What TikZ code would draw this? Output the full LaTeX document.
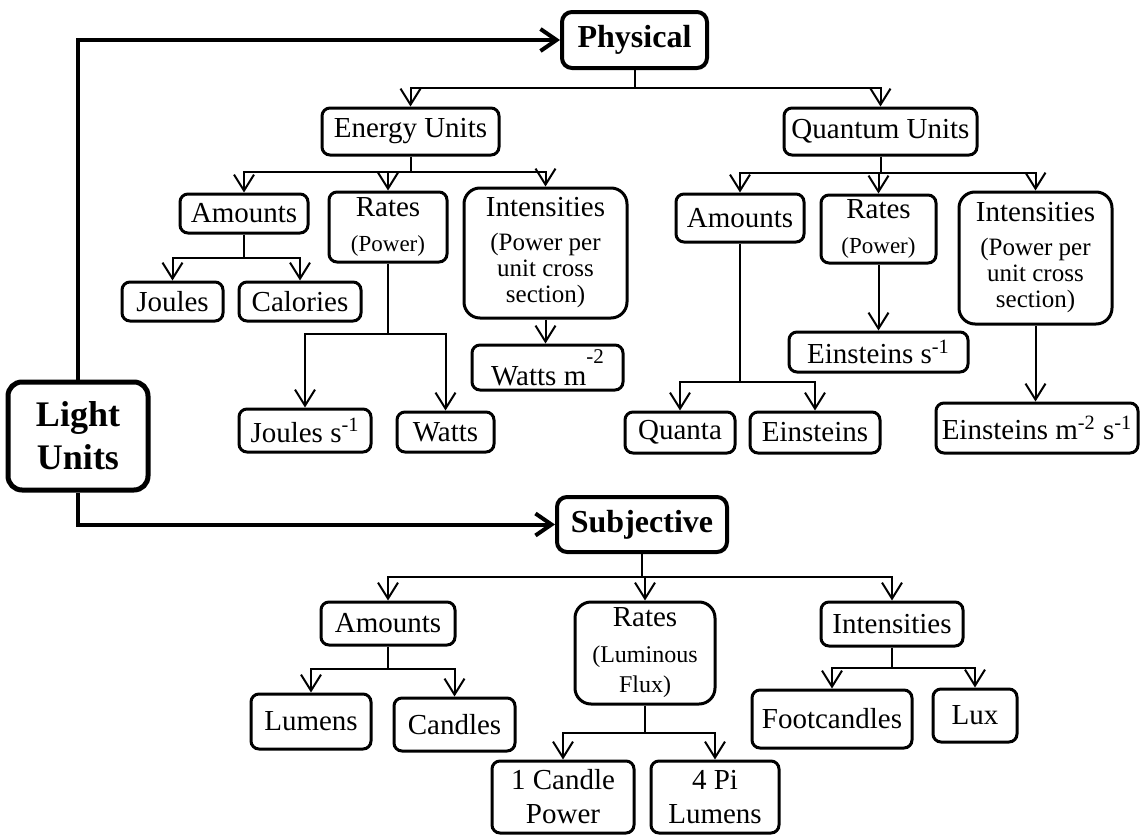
\documentclass[tikz,border=0pt]{standalone}
\usepackage{fontspec}
\setmainfont{Liberation Serif}
\usetikzlibrary{arrows.meta}

\newcommand{\notefont}{\fontsize{12.5}{13}\selectfont}
\newcommand{\fluxfont}{\fontsize{12}{14}\selectfont}

\begin{document}
\begin{tikzpicture}[
  x=0.5pt,
  y=-0.5pt,
  font=\fontsize{14.5}{17}\selectfont,
  headbox/.style={draw, line width=2pt, rounded corners=5pt, inner sep=0pt, align=center, font=\fontsize{16}{18}\selectfont\bfseries},
  unitbox/.style={draw, line width=1.5pt, rounded corners=4pt, inner sep=0pt, align=center},
  tallbox/.style={unitbox, rounded corners=8pt},
  link/.style={line width=1pt},
  arrowline/.style={link, -{Straight Barb[length=8pt,width=10pt]}},
  mainline/.style={line width=2pt, -{Straight Barb[length=8pt,width=11pt]}}
]
  \useasboundingbox (0,0) rectangle (1141,835);

  % roots
  \node[headbox, line width=2.5pt, rounded corners=7pt, minimum width=70pt, minimum height=54pt, font=\fontsize{18}{21.5}\selectfont\bfseries] (lu) at (78,436) {Light\\Units};
  \node[headbox, minimum width=72.5pt, minimum height=28pt] (phys) at (634.5,40) {Physical};
  \node[headbox, minimum width=85pt, minimum height=27.5pt] (subj) at (642,524.5) {Subjective};

  % physical side
  \node[unitbox, minimum width=88.5pt, minimum height=23.5pt] (eu) at (410.5,131.5) {Energy Units};
  \node[unitbox, minimum width=96.5pt, minimum height=23.5pt] (qu) at (880.5,131.5) {Quantum Units};

  \node[unitbox, minimum width=64pt, minimum height=19.5pt] (ea) at (244,213.5) {Amounts};
  \node[unitbox, minimum width=59pt, minimum height=35pt, font=\fontsize{14.5}{17.5}\selectfont] (er) at (388,227) {Rates\\{\fontsize{11.5}{13}\selectfont (Power)}};
  \node[tallbox, minimum width=81.5pt, minimum height=65pt, font=\fontsize{14.5}{13}\selectfont] (ei) at (545.5,253)
    {Intensities\\[4pt]\notefont (Power per\\\notefont unit cross\\\notefont section)};

  \node[unitbox, minimum width=64pt, minimum height=24pt] (qa) at (740,218) {Amounts};
  \node[unitbox, minimum width=57.5pt, minimum height=34pt, font=\fontsize{14.5}{17.5}\selectfont] (qr) at (878.5,229) {Rates\\{\fontsize{11.5}{13}\selectfont (Power)}};
  \node[tallbox, minimum width=76.5pt, minimum height=66pt, font=\fontsize{14.5}{13}\selectfont] (qi) at (1035.5,258)
    {Intensities\\[4pt]\notefont (Power per\\\notefont unit cross\\\notefont section)};

  \node[unitbox, minimum width=50.5pt, minimum height=19.5pt] (joules) at (172.5,301.5) {Joules};
  \node[unitbox, minimum width=61pt, minimum height=19.5pt] (calories) at (300,301.5) {Calories};
  \node[unitbox, minimum width=66pt, minimum height=21.5pt] (joulesps) at (305,430.5) {Joules s\textsuperscript{-1}};
  \node[unitbox, minimum width=48.5pt, minimum height=20pt] (watts) at (445.5,432) {Watts};
  \node[unitbox, minimum width=75.5pt, minimum height=22.5pt] (wattsm) at (547.5,367.5) {Watts m\raisebox{11pt}{\fontsize{10.5}{12}\selectfont -2}};

  \node[unitbox, minimum width=89.5pt, minimum height=20pt] (einps) at (878.5,352) {Einsteins s\textsuperscript{-1}};
  \node[unitbox, minimum width=55pt, minimum height=20.5pt] (quanta) at (680,432.5) {Quanta};
  \node[unitbox, minimum width=65pt, minimum height=20.5pt] (einsteins) at (815,432.5) {Einsteins};
  \node[unitbox, minimum width=101pt, minimum height=25pt] (einpms) at (1037,428) {Einsteins m\textsuperscript{-2} s\textsuperscript{-1}};

  % subjective side
  \node[unitbox, minimum width=67pt, minimum height=21.5pt] (sa) at (388,623.5) {Amounts};
  \node[tallbox, minimum width=70pt, minimum height=51pt, font=\fontsize{14.5}{14}\selectfont] (sr) at (645,653)
    {Rates\\[4pt]\fluxfont (Luminous\\[1pt]\fluxfont Flux)};
  \node[unitbox, minimum width=71pt, minimum height=22pt] (si) at (892,624) {Intensities};

  \node[unitbox, minimum width=60pt, minimum height=27.5pt] (lumens) at (311,721.5) {Lumens};
  \node[unitbox, minimum width=60.5pt, minimum height=26.5pt] (candles) at (454.5,724.5) {Candles};
  \node[unitbox, minimum width=71pt, minimum height=36pt] (cpower) at (563,797) {1 Candle\\Power};
  \node[unitbox, minimum width=64pt, minimum height=36pt] (pilumens) at (715,797) {4 Pi\\Lumens};
  \node[unitbox, minimum width=80pt, minimum height=29pt] (footc) at (832,719) {Footcandles};
  \node[unitbox, minimum width=42pt, minimum height=26.5pt] (lux) at (975,715.5) {Lux};

  % junctions
  \coordinate (pj) at (634.5,88);
  \coordinate (ej) at (410.5,172);
  \coordinate (qj) at (880.5,173);
  \coordinate (eaj) at (244,258);
  \coordinate (erj) at (388,334);
  \coordinate (qaj) at (740,382);
  \coordinate (sj) at (642,577);
  \coordinate (saj) at (388,669);
  \coordinate (srj) at (645,733);
  \coordinate (sij) at (892,668);

  % main arrows
  \draw[mainline] (lu.north) |- (phys.west);
  \draw[mainline] (lu.south) |- (subj.west);

  % physical tree
  \draw[link] (phys.south) -- (pj);
  \draw[arrowline] (pj) -| (eu.north);
  \draw[arrowline] (pj) -| (qu.north);

  \draw[link] (eu.south) -- (ej);
  \draw[arrowline] (ej) -| (ea.north);
  \draw[arrowline] (ej) -| (er.north);
  \draw[arrowline] (ej) -| (ei.north);

  \draw[link] (qu.south) -- (qj);
  \draw[arrowline] (qj) -| (qa.north);
  \draw[arrowline] (qj) -| (qr.north);
  \draw[arrowline] (qj) -| (qi.north);

  \draw[link] (ea.south) -- (eaj);
  \draw[arrowline] (eaj) -| (joules.north);
  \draw[arrowline] (eaj) -| (calories.north);

  \draw[link] (er.south) -- (erj);
  \draw[arrowline] (erj) -| (joulesps.north);
  \draw[arrowline] (erj) -| (watts.north);

  \draw[arrowline] (ei.south) -- (ei.south |- wattsm.north);
  \draw[arrowline] (qr.south) -- (qr.south |- einps.north);

  \draw[link] (qa.south) -- (qaj);
  \draw[arrowline] (qaj) -| (quanta.north);
  \draw[arrowline] (qaj) -| (einsteins.north);

  \draw[arrowline] (qi.south) -- (qi.south |- einpms.north);

  % subjective tree
  \draw[link] (subj.south) -- (sj);
  \draw[arrowline] (sj) -| (sa.north);
  \draw[arrowline] (sj) -| (sr.north);
  \draw[arrowline] (sj) -| (si.north);

  \draw[link] (sa.south) -- (saj);
  \draw[arrowline] (saj) -| (lumens.north);
  \draw[arrowline] (saj) -| (candles.north);

  \draw[link] (sr.south) -- (srj);
  \draw[arrowline] (srj) -| (cpower.north);
  \draw[arrowline] (srj) -| (pilumens.north);

  \draw[link] (si.south) -- (sij);
  \draw[arrowline] (sij) -| (footc.north);
  \draw[arrowline] (sij) -| (lux.north);
\end{tikzpicture}
\end{document}
